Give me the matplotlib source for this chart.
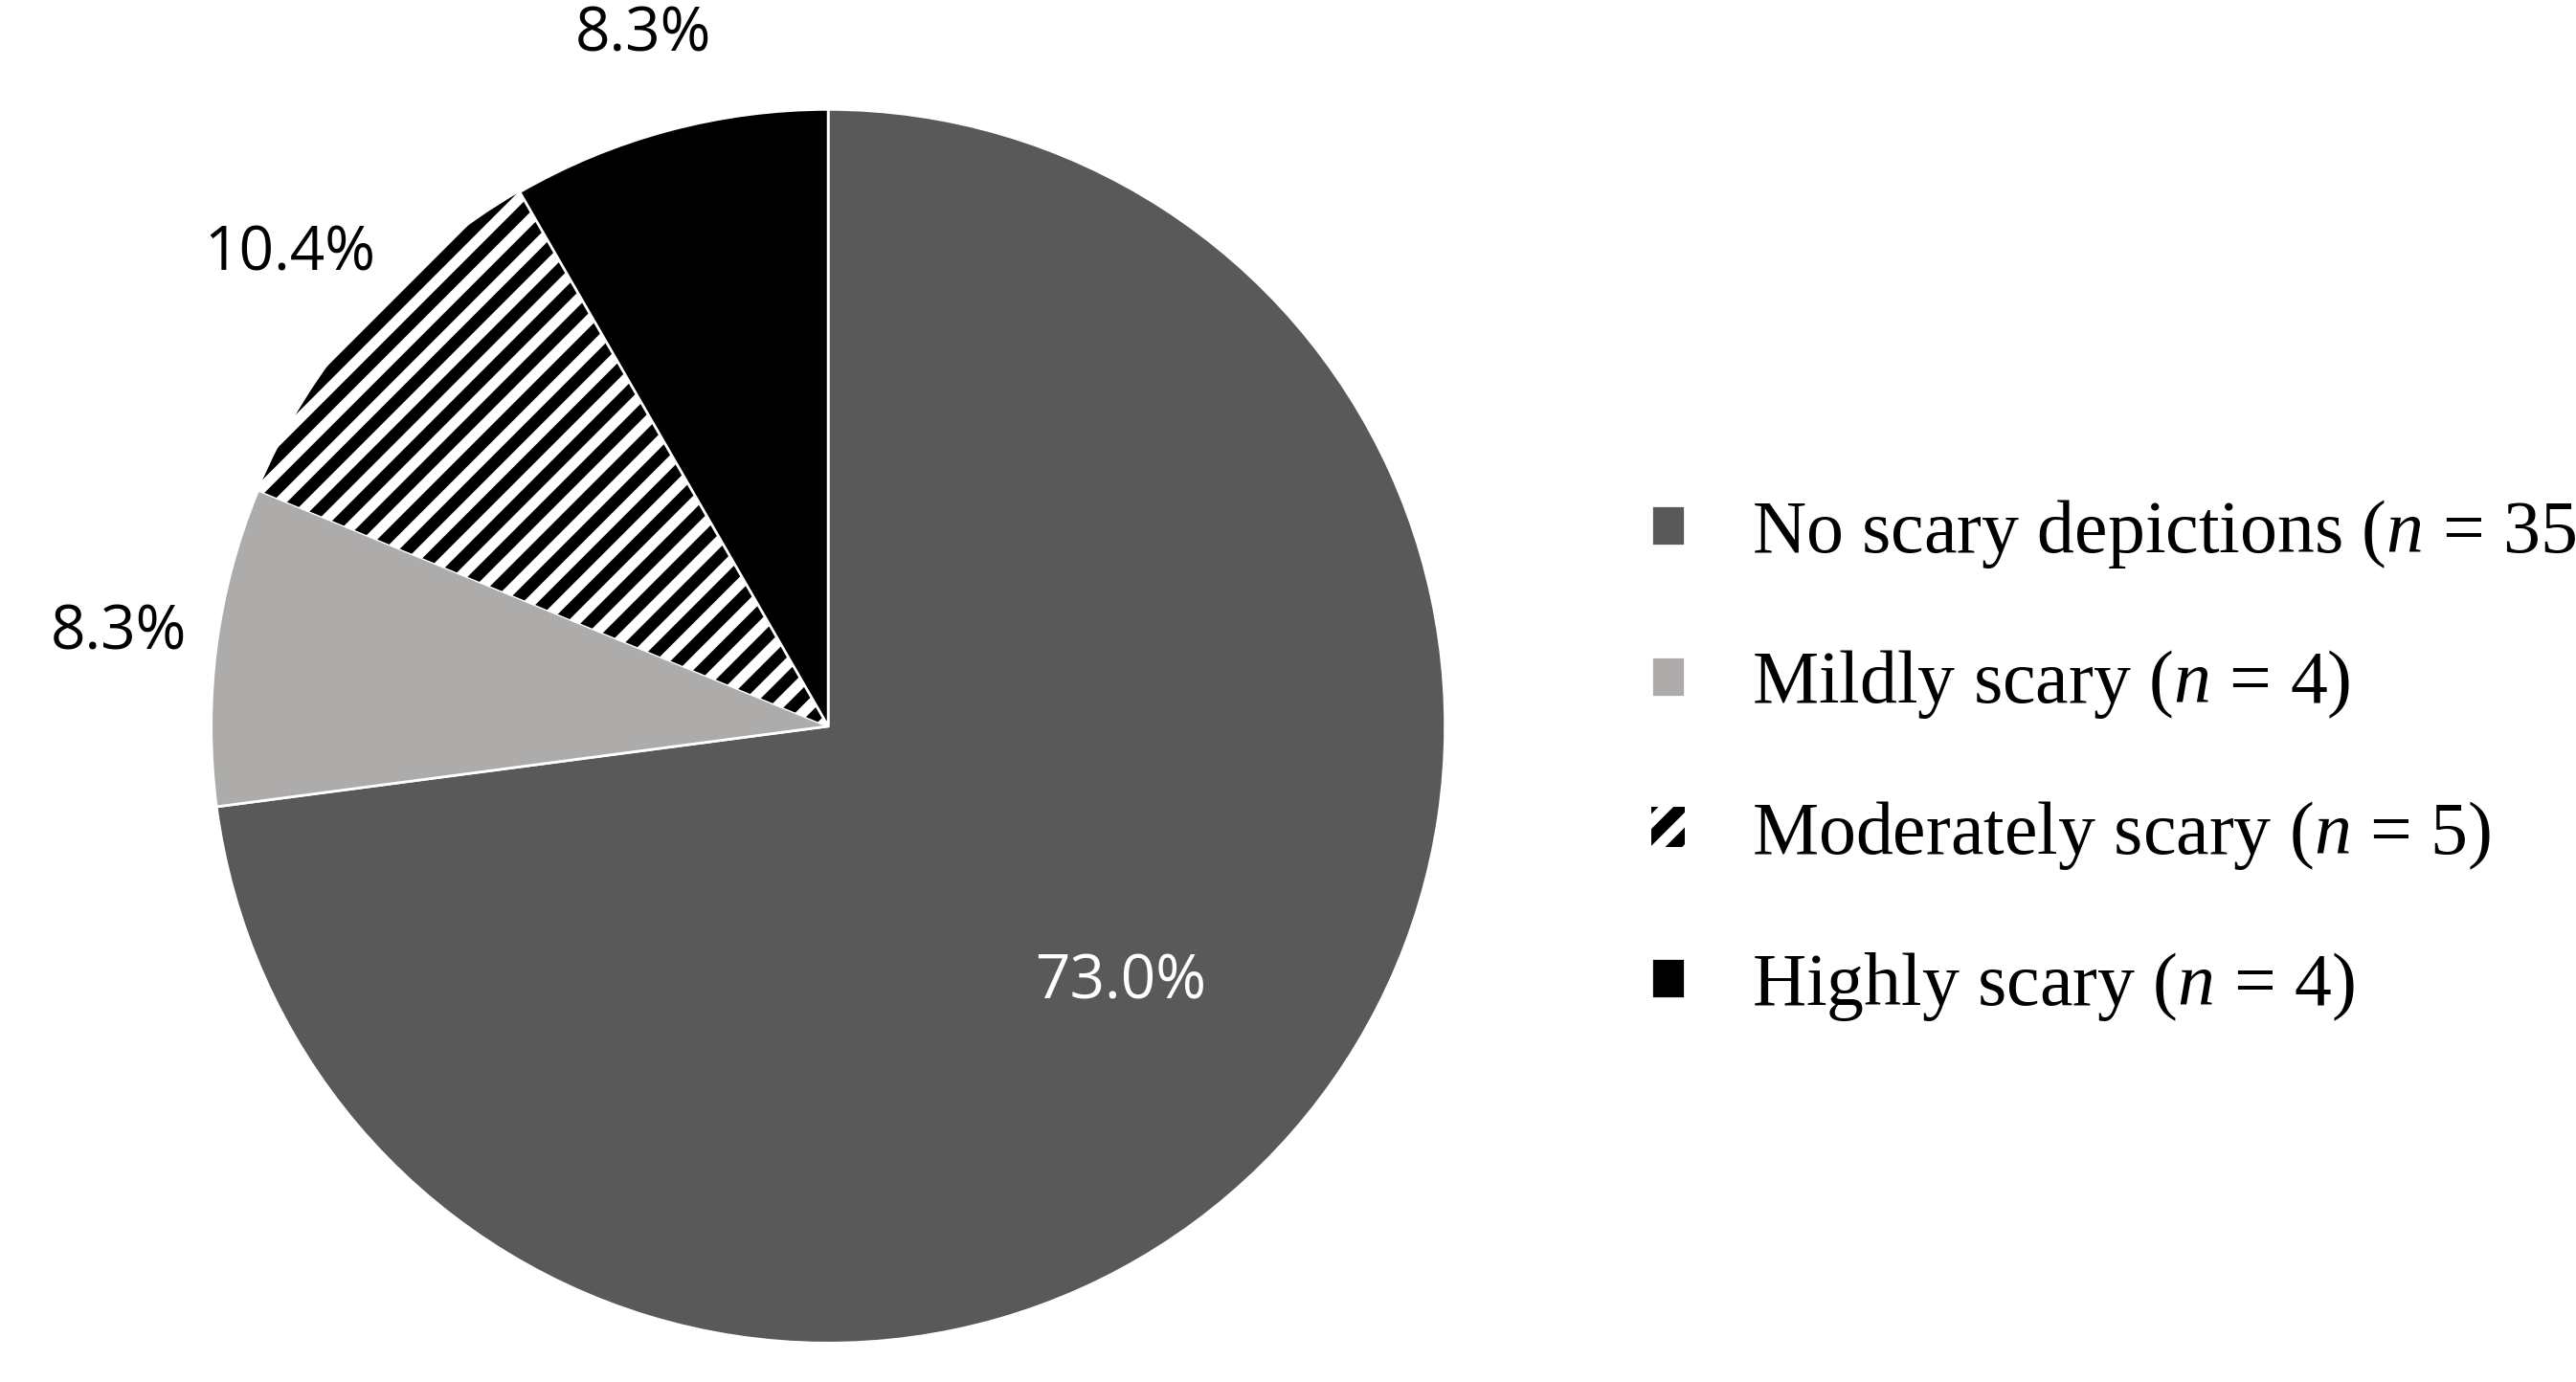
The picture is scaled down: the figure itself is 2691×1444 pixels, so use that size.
import matplotlib.pyplot as plt
import numpy as np

plt.rcParams['mathtext.fontset'] = 'custom'
plt.rcParams['mathtext.it'] = 'Liberation Serif:italic'
plt.rcParams['mathtext.rm'] = 'Liberation Serif'
plt.rcParams['hatch.linewidth'] = 9

categories = ['No scary depictions', 'Mildly scary', 'Moderately scary', 'Highly scary']
counts = [35, 4, 5, 4]
pct_labels = ['73.0%', '8.3%', '10.4%', '8.3%']
colors = ['#595959', '#aeabab', 'white', 'black']

fig = plt.figure(figsize=(26.91, 14.44), dpi=100)
ax = fig.add_axes([0.082, 0.028, 0.479, 0.893])

wedges, _ = ax.pie(counts, colors=colors, startangle=90, counterclock=False,
                   wedgeprops=dict(edgecolor='white', linewidth=2))
wedges[2].set_hatch('/')
wedges[2].set_edgecolor('black')
wedges[2].set_linewidth(0)

for i, w in enumerate(wedges):
    ang = np.deg2rad((w.theta1 + w.theta2) / 2)
    if i == 0:
        r, c = 0.63, 'white'
    else:
        r, c = 1.16, 'black'
    ax.text(r * np.cos(ang), r * np.sin(ang), pct_labels[i], color=c,
            ha='center', va='center', fontsize=46, family='Open Sans')
ax.set_xlim(-1, 1)
ax.set_ylim(-1, 1)
ax.set_aspect('equal')

labels = [f'{c} ($n$ = {n})' for c, n in zip(categories, counts)]
leg = fig.legend(wedges, labels, loc='center left', bbox_to_anchor=(0.615, 0.45),
                 frameon=False, prop={'family': 'Liberation Serif', 'size': 56},
                 handlelength=0.45, handleheight=0.45, handletextpad=0.9,
                 labelspacing=1.05)
fig.savefig('out.png', dpi=100)
